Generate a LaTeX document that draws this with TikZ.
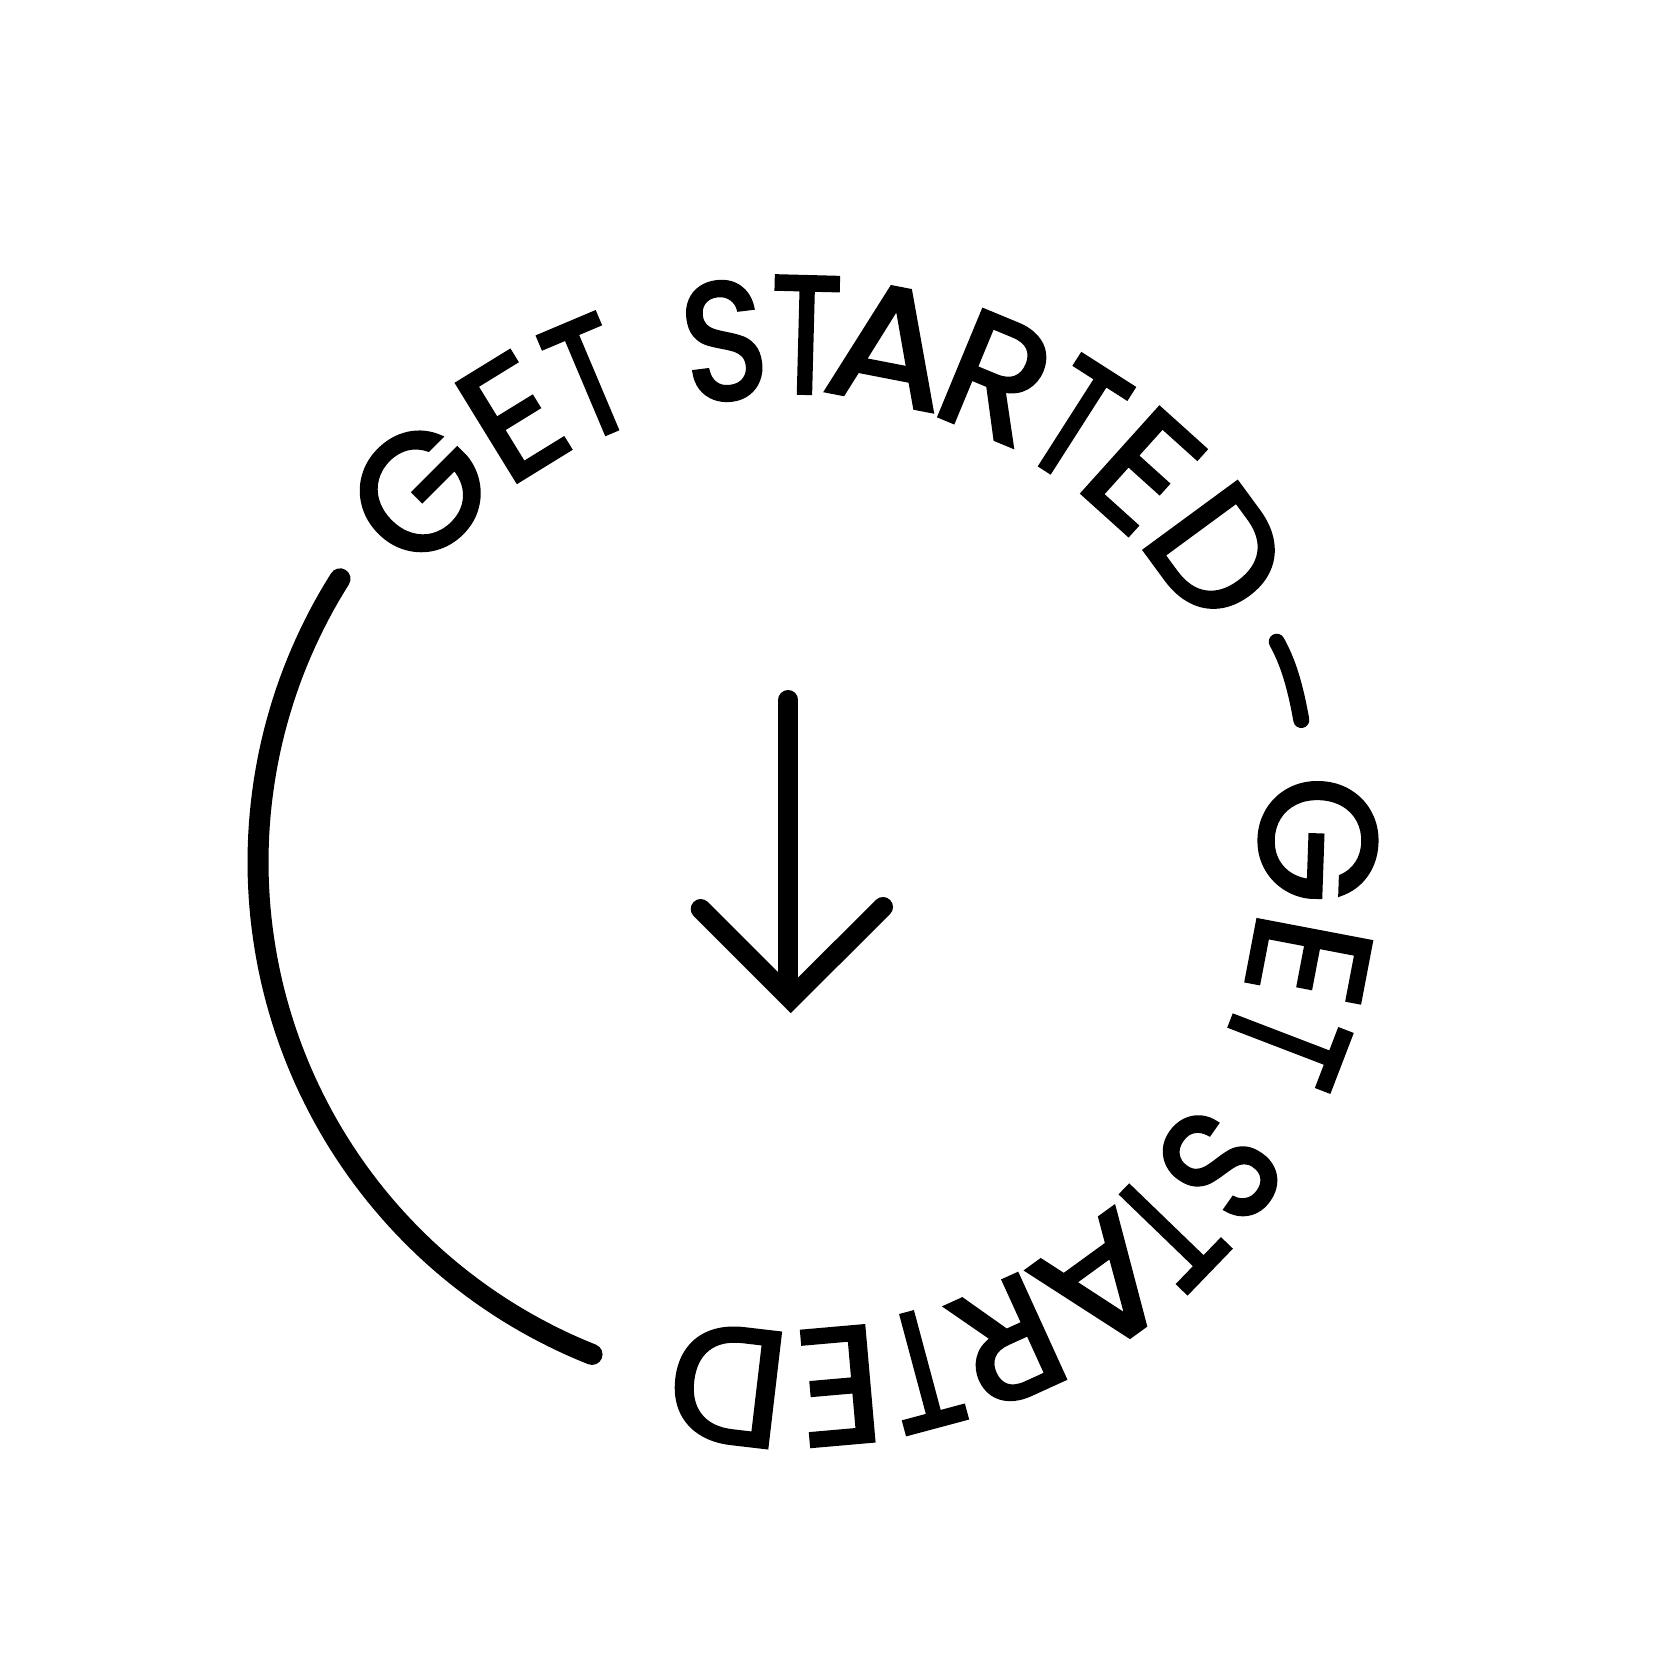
\documentclass[tikz,border=0pt]{standalone}
\usepackage{fontspec}
\newfontfamily\lfa[FakeBold=2.3]{Poppins}
\newfontfamily\lfb[FakeBold=2.6]{Poppins}
\tikzset{
  let/.style={inner sep=0pt,outer sep=0pt,font=\lfa\fontsize{82.5}{83}\selectfont,text=black},
  letn/.style={inner sep=0pt,outer sep=0pt,font=\lfb\fontsize{83}{83}\selectfont,text=black},
  arcline/.style={draw=black,line width=10.5pt,line cap=round,line join=round},
  thinarc/.style={draw=black,line width=8pt,line cap=round,line join=round},
  arrowline/.style={draw=black,line width=10pt,line cap=round,miter limit=10},
}
\begin{document}
\begin{tikzpicture}[x=0.5pt,y=-0.5pt]
\useasboundingbox (0,0) rectangle (1654,1657);
\fill[white] (0,0) rectangle (1654,1657);
% arcs
\draw[arcline] plot[domain=212.3:111.7,samples=90,variable=\t] ({788+530*cos(\t)},{862+530*sin(\t)});
\coordinate (ts) at (1276.7,641.7);
\coordinate (te) at (1301.3,720);
\draw[thinarc] (ts) .. controls (1288,662) and (1295,685) .. (te);
% arrow
\coordinate (top) at (788.3,700);
\coordinate (stemend) at (788.3,985);
\coordinate (tip) at (790.7,999);
\coordinate (al) at (700.7,909);
\coordinate (ar) at (883,907);
\draw[arrowline] (top) -- (stemend);
\draw[arrowline,line join=miter] (al) -- (tip) -- (ar);
% letters
\node[let,rotate=45] (g1) at (420,492) {G};
\node[let,rotate=31.6] (e1) at (512.5,417) {E};
\node[letn,rotate=22.9,xscale=0.79] (t1) at (589,378) {T};
\node[letn,rotate=7,xscale=0.85] (s1) at (724,341) {S};
\node[letn,rotate=-1.5,xscale=0.79] (t2) at (806,335) {T};
\node[let,rotate=-11,xscale=1.07] (a1) at (890,345) {A};
\node[let,rotate=-22.5] (r1) at (996,377.5) {R};
\node[letn,rotate=-32.6,xscale=0.79] (t3) at (1076.5,420) {T};
\node[let,rotate=-42] (e2) at (1143,470.5) {E};
\node[let,rotate=-53.7] (d1) at (1218,553) {D};
\node[let,rotate=-92] (g2) at (1318,840) {G};
\node[let,rotate=-100.8] (e3) at (1309,960) {E};
\node[letn,rotate=-111,xscale=0.79] (t4) at (1286,1042) {T};
\node[letn,rotate=-125,xscale=0.85] (s2) at (1220,1166) {S};
\node[letn,rotate=-134,xscale=0.79] (t5) at (1167,1230.5) {T};
\node[let,rotate=-144,xscale=1.07] (a2) at (1104,1285) {A};
\node[let,rotate=-155.5] (r2) at (1007,1342) {R};
\node[letn,rotate=-165,xscale=0.79] (t6) at (922,1370) {T};
\node[let,rotate=-175] (e4) at (839,1386) {E};
\node[let,rotate=173.3] (d2) at (728,1385) {D};
\end{tikzpicture}
\end{document}
